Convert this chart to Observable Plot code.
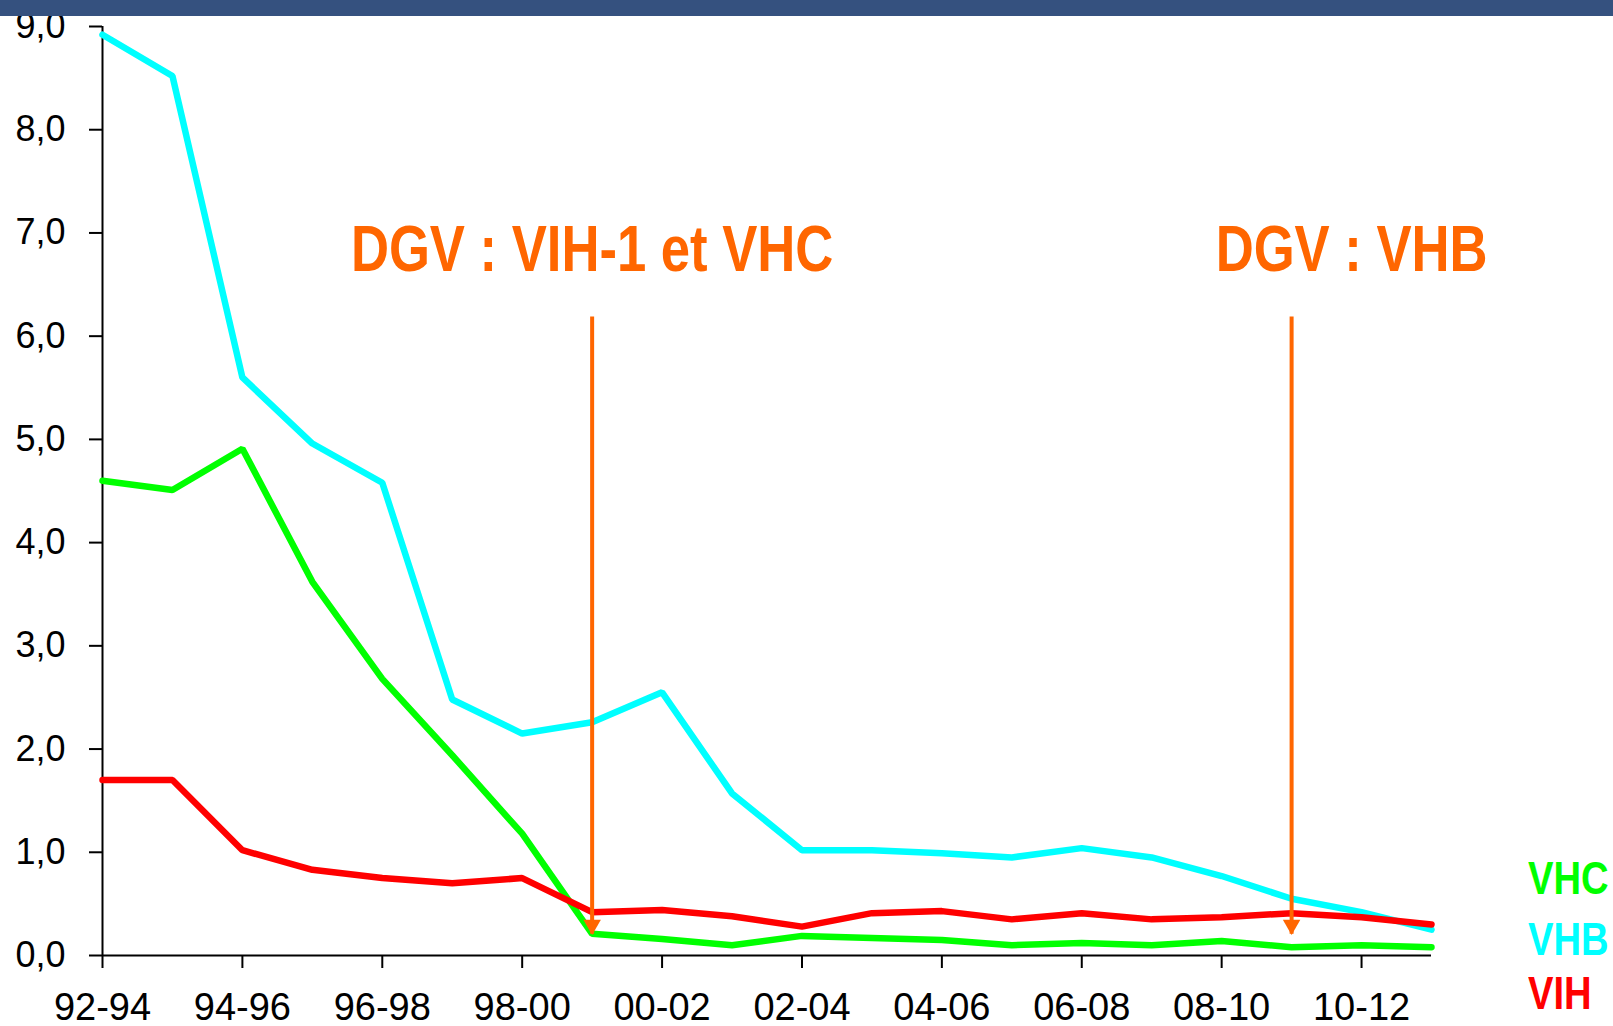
<!DOCTYPE html>
<html>
<head>
<meta charset="utf-8">
<script src="https://cdn.jsdelivr.net/npm/d3@7"></script>
<script src="https://cdn.jsdelivr.net/npm/@observablehq/plot@0.6"></script>
<style>
  html, body { margin: 0; padding: 0; background: #fff; }
  #wrap { position: relative; width: 1613px; height: 1026px; overflow: hidden; }
  #bar { position: absolute; left: 0; top: 0; width: 1613px; height: 16px; background: #35517f; z-index: 2; }
  .leg { position: absolute; left: 1528px; font-family: "Liberation Sans", Arial, sans-serif; font-weight: bold; font-size: 46px; line-height: 1; z-index: 2; transform: scaleX(0.83); transform-origin: 0 50%; white-space: nowrap; }
  #chart svg { display: block; }
</style>
</head>
<body>
<div id="wrap">
  <div id="bar"></div>
  <div id="chart"></div>
  <div class="leg" style="top:855px;color:#00ff00">VHC</div>
  <div class="leg" style="top:916px;color:#00ffff">VHB</div>
  <div class="leg" style="top:970px;color:#ff0000">VIH</div>
</div>
<script>
const periods = ["92-94","93-95","94-96","95-97","96-98","97-99","98-00","99-01","00-02","01-03",
                 "02-04","03-05","04-06","05-07","06-08","07-09","08-10","09-11","10-12","11-13"];
const tickLabels = ["92-94","94-96","96-98","98-00","00-02","02-04","04-06","06-08","08-10","10-12"];
const yTicks = [0,1,2,3,4,5,6,7,8,9];

const vhb = [8.92,8.52,5.60,4.96,4.58,2.48,2.15,2.26,2.55,1.57,1.02,1.02,0.99,0.95,1.04,0.95,0.77,0.55,0.42,0.25];
const vhc = [4.60,4.51,4.91,3.62,2.68,1.94,1.18,0.21,0.16,0.10,0.19,0.17,0.15,0.10,0.12,0.10,0.14,0.08,0.10,0.08];
const vih = [1.70,1.70,1.02,0.83,0.75,0.70,0.75,0.42,0.44,0.38,0.28,0.41,0.43,0.35,0.41,0.35,0.37,0.41,0.37,0.30];

const seriesNames = ["VHB","VHC","VIH"];
const seriesColors = ["#00ffff","#00ff00","#ff0000"];

const arrowPeriods = ["99-01","09-11"];
const arrowTop = [6.19, 6.19];
const arrowTip = [0.21, 0.21];
const annotationTexts = ["DGV : VIH-1 et VHC","DGV : VHB"];
const annotationY = [6.83, 6.83];
const annotationDx = [0, 60];

const orange = "#ff6600";
const tableFor = (vals, name) => vals.map((v, i) => ({period: periods[i], value: v, series: name}));
const data = [...tableFor(vhb, "VHB"), ...tableFor(vhc, "VHC"), ...tableFor(vih, "VIH")];
const arrows = arrowPeriods.map((p, i) => ({period: p, top: arrowTop[i], tip: arrowTip[i]}));
const notes = arrowPeriods.map((p, i) => ({period: p, y: annotationY[i], text: annotationTexts[i], dx: annotationDx[i]}));

const fmt = d => d.toFixed(1).replace(".", ",");

const chart = Plot.plot({
  width: 1613,
  height: 1026,
  marginTop: 26,
  marginBottom: 71,
  marginLeft: 102,
  marginRight: 182,
  style: {fontFamily: "'Liberation Sans', Arial, sans-serif", background: "transparent", overflow: "visible"},
  x: {type: "point", domain: periods, padding: 0, round: false},
  y: {domain: [0, 9]},
  color: {domain: seriesNames, range: seriesColors},
  marks: [
    Plot.axisY({ticks: yTicks, tickFormat: fmt, tickSize: 13, tickPadding: 24, fontSize: 36, stroke: "#000", strokeWidth: 2, color: "#000", label: null}),
    Plot.axisX({ticks: tickLabels, tickSize: 13, tickPadding: 25, fontSize: 38, stroke: "#000", strokeWidth: 2, color: "#000", label: null}),
    Plot.ruleY([0], {stroke: "#000", strokeWidth: 2}),
    Plot.ruleX([periods[0]], {stroke: "#000", strokeWidth: 2}),
    Plot.line(data, {x: "period", y: "value", z: "series", stroke: "series", strokeWidth: 6.5, strokeLinejoin: "miter"}),
    Plot.link(arrows, {x1: "period", x2: "period", y1: "top", y2: "tip", stroke: orange, strokeWidth: 4}),
    Plot.dot(arrows, {x: "period", y: "tip", symbol: "triangle", r: 6.5, fill: orange, stroke: null, rotate: 180, dy: -9}),
    ...notes.map(n => Plot.text([n], {x: "period", y: "y", text: "text", dx: n.dx, fill: orange, fontSize: 65, fontWeight: "bold",
      fontFamily: "'Liberation Sans', Arial, sans-serif", className: "note"}))
  ]
});
document.getElementById("chart").appendChild(chart);
// condensed look (Arial Narrow Bold in the original)
chart.querySelectorAll(".note text").forEach(t => {
  const tr = t.getAttribute("transform") || "";
  t.setAttribute("transform", tr + " scale(0.81,1)");
});
</script>
</body>
</html>
